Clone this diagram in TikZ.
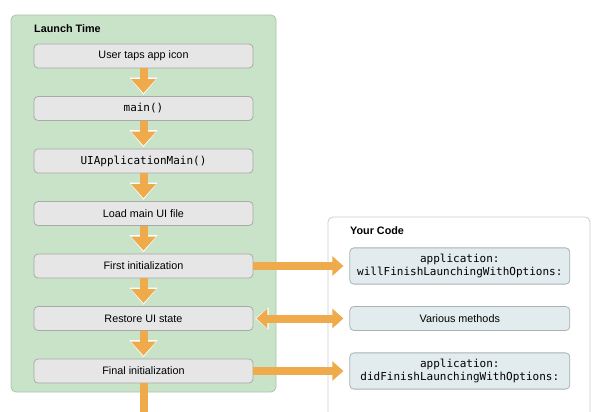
\documentclass[tikz,border=0pt]{standalone}
\usepackage{fontspec}
\setmainfont{Liberation Sans}
\setmonofont{DejaVu Sans Mono}
\usetikzlibrary{positioning,arrows.meta}
\definecolor{launchgreen}{HTML}{C9E3C9}
\definecolor{launchedge}{HTML}{A9C6A9}
\definecolor{stepgray}{HTML}{E6E6E6}
\definecolor{stepedge}{HTML}{A9A9A9}
\definecolor{codeblue}{HTML}{E2EBEE}
\definecolor{codeedge}{HTML}{A8B3B6}
\definecolor{floworange}{HTML}{EFAA4B}

\begin{document}
\begin{tikzpicture}[x=1pt,y=-1pt,
				stepbox/.style={draw=stepedge,fill=stepgray,rounded corners=4pt,line width=0.8pt,
					minimum width=219pt,minimum height=24pt,inner sep=0pt,
					font=\fontsize{10.8}{13}\selectfont},
				codebox/.style={draw=codeedge,fill=codeblue,rounded corners=4pt,line width=0.8pt,
					minimum width=220pt,minimum height=24pt,inner ysep=6pt,align=center,
					font=\fontsize{10.8}{13}\selectfont},
				codetext/.style={font=\fontsize{11}{13.5}\ttfamily},
				title/.style={anchor=west,inner sep=0pt,font=\fontsize{10.8}{13}\selectfont\bfseries},
				flow/.style={floworange,line width=8pt,shorten >=3pt,
					-{Triangle[length=14pt,width=24pt]},
					preaction={draw=white,line width=1pt,shorten >=1.5pt,-{Triangle[length=17pt,width=28pt]}}},
				across/.style={floworange,line width=8pt,shorten >=6pt,
					-{Triangle[length=11pt,width=19pt]},
					preaction={draw=white,line width=1pt,shorten >=4.8pt,-{Triangle[length=13.5pt,width=22pt]}}},
				both/.style={floworange,line width=8pt,shorten >=6pt,shorten <=3pt,
					{Triangle[length=11pt,width=19pt]}-{Triangle[length=11pt,width=19pt]},
					preaction={draw=white,line width=1pt,shorten >=4.8pt,shorten <=1.8pt,
						{Triangle[length=13.5pt,width=22pt]}-{Triangle[length=13.5pt,width=22pt]}}}]
				\useasboundingbox (0,0) rectangle (608,412);
				
				% frames
				\draw[launchedge,fill=launchgreen,rounded corners=5pt,line width=0.8pt] (11,15) rectangle (276,392);
				\draw[black!20,rounded corners=5pt,line width=0.8pt] (328,414) -- (328,217) -- (590,217) -- (590,414);
				\node (launch) [title] at (34,29)  {Launch Time};
				\node (yours)  [title] at (350,231) {Your Code};
				
				\node (tap)     [stepbox] at (143.5,56)       {User taps app icon};
				\node (main)    [stepbox,below=27.7pt of tap]  {\texttt{\fontsize{11}{13}\selectfont main()}};
				\node (uimain)  [stepbox,below=27.7pt of main] {\texttt{\fontsize{11}{13}\selectfont UIApplicationMain()}};
				\node (load)    [stepbox,below=27.7pt of uimain] {Load main UI file};
				\node (first)   [stepbox,below=27.7pt of load] {First initialization};
				\node (restore) [stepbox,below=27.7pt of first] {Restore UI state};
				\node (final)   [stepbox,below=27.7pt of restore] {Final initialization};
				\coordinate (exit) at (143.5,414);
				
				\node (will)    [codebox,codetext,right=96pt of first]   {application:\\willFinishLaunchingWithOptions:};
				\node (various) [codebox,right=96pt of restore]          {Various methods};
				\node (did)     [codebox,codetext,right=96pt of final]   {application:\\didFinishLaunchingWithOptions:};
				
				\draw[flow] (tap) -- (main);
				\draw[flow] (main) -- (uimain);
				\draw[flow] (uimain) -- (load);
				\draw[flow] (load) -- (first);
				\draw[flow] (first) -- (restore);
				\draw[flow] (restore) -- (final);
				\draw[floworange,line width=8pt] (final) -- (exit);
				
				\draw[across] (first) -- (will);
				\draw[both]   (restore) -- (various);
				\draw[across] (final) -- (did);
			\end{tikzpicture}
\end{document}
